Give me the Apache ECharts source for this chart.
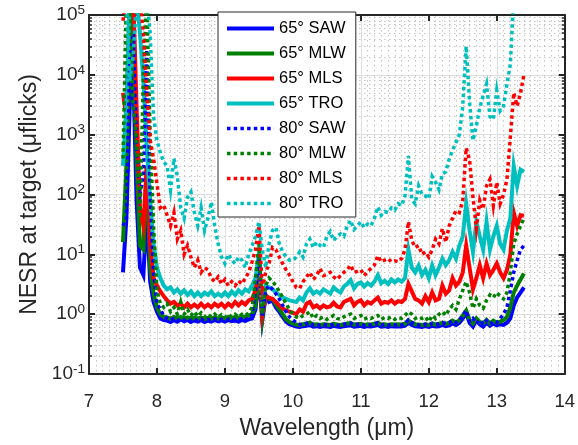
<!DOCTYPE html>
<html><head><meta charset="utf-8">
<script src="https://cdn.jsdelivr.net/npm/echarts@6/dist/echarts.min.js"></script>
<style>html,body{margin:0;padding:0;background:#fff}#c{width:578px;height:445px}</style>
</head><body><div id="c"></div>
<script>
const wavelength = [
 7.50,7.55,7.60,7.65,7.70,7.75,7.80,7.85,7.90,7.95,
 8.00,8.05,8.10,8.15,8.20,8.25,8.30,8.35,8.40,8.45,
 8.50,8.55,8.60,8.65,8.70,8.75,8.80,8.85,8.90,8.95,
 9.00,9.05,9.10,9.15,9.20,9.25,9.30,9.35,9.40,9.45,
 9.50,9.55,9.60,9.65,9.70,9.75,9.80,9.85,9.90,9.95,
 10.00,10.05,10.10,10.15,10.20,10.25,10.30,10.35,10.40,10.45,
 10.50,10.55,10.60,10.65,10.70,10.75,10.80,10.85,10.90,10.95,
 11.00,11.05,11.10,11.15,11.20,11.25,11.30,11.35,11.40,11.45,
 11.50,11.55,11.60,11.65,11.70,11.75,11.80,11.85,11.90,11.95,
 12.00,12.05,12.10,12.15,12.20,12.25,12.30,12.35,12.40,12.45,
 12.50,12.55,12.60,12.65,12.70,12.75,12.80,12.85,12.90,12.95,
 13.00,13.05,13.10,13.15,13.20,13.25,13.30,13.35,13.40];

const saw65 = [
 5,40,3000,12000,80,6,4.5,50,3.5,1.6,
 1.1,0.85,0.8,0.78,0.74,0.8,0.75,0.82,0.76,0.8,
 0.74,0.79,0.75,0.8,0.74,0.78,0.75,0.8,0.76,0.79,
 0.75,0.8,0.76,0.78,0.75,0.8,0.77,0.82,0.85,1.2,
 4.5,0.8,2.0,1.6,1.7,1.3,1.1,0.9,0.75,0.68,
 0.65,0.62,0.61,0.63,0.64,0.66,0.62,0.63,0.61,0.63,
 0.62,0.61,0.64,0.62,0.61,0.63,0.64,0.65,0.62,0.63,
 0.64,0.61,0.63,0.62,0.64,0.66,0.62,0.63,0.61,0.63,
 0.62,0.63,0.62,0.64,0.72,0.66,0.63,0.62,0.61,0.63,
 0.61,0.64,0.62,0.63,0.66,0.63,0.65,0.7,0.66,0.72,
 0.85,1.05,0.72,0.62,0.8,0.68,0.62,0.72,0.64,0.7,
 0.65,0.68,0.66,0.72,0.85,1.4,1.9,2.3,2.8];

const mlw65 = [
 16,300,20000,200000,400,14,12,300,6,2.2,
 1.3,1.0,0.9,0.88,0.84,0.9,0.85,0.9,0.84,0.88,
 0.83,0.88,0.84,0.88,0.83,0.87,0.84,0.88,0.84,0.88,
 0.85,0.9,0.86,0.9,0.86,0.92,0.9,0.95,1.0,1.4,
 5.5,0.85,2.1,1.8,1.8,1.45,1.2,1.0,0.82,0.74,
 0.7,0.67,0.66,0.68,0.7,0.72,0.67,0.68,0.66,0.68,
 0.67,0.66,0.69,0.67,0.66,0.68,0.7,0.71,0.67,0.68,
 0.69,0.66,0.68,0.67,0.69,0.72,0.67,0.68,0.66,0.68,
 0.67,0.68,0.67,0.69,0.78,0.72,0.68,0.67,0.66,0.68,
 0.66,0.7,0.67,0.69,0.72,0.69,0.72,0.78,0.72,0.8,
 0.95,1.15,0.8,0.7,0.85,0.74,0.7,0.8,0.7,0.78,
 0.72,0.75,0.8,0.9,1.3,2.3,3.0,3.8,4.8];

const mls65 = [
 5000,2000,200000,200000,3000,60,30,300,15,4,
 3,2.4,2.0,1.7,1.5,1.6,1.4,1.5,1.3,1.5,
 1.3,1.45,1.3,1.5,1.3,1.45,1.3,1.5,1.35,1.5,
 1.3,1.5,1.35,1.6,1.4,1.6,1.45,1.7,1.8,2.5,
 7,1.0,2.0,1.9,1.8,1.6,1.4,1.25,1.15,1.1,
 1.05,1.0,1.2,1.1,1.5,1.6,1.3,1.4,1.25,1.4,
 1.3,1.35,1.55,1.35,1.3,1.6,1.7,1.8,1.4,1.6,
 1.7,1.4,1.6,1.5,1.7,1.9,1.5,1.6,1.55,1.7,
 1.5,1.65,1.6,1.8,3.2,2.4,1.8,1.7,1.5,2.0,
 1.6,2.3,1.7,1.8,3.0,2.2,2.5,4.0,3.0,3.5,
 5,14,6,2.6,4,6.6,4,7,4.5,5.5,
 7,5,4,5.5,10,50,30,45,44];

const tro65 = [
 300,3000,200000,200000,200000,50000,8000,600,80,15,
 6,4,3.0,2.6,2.8,2.3,2.6,2.2,2.5,2.1,
 2.4,2.0,2.3,2.0,2.3,2.1,2.4,2.0,2.2,2.0,
 2.3,2.0,2.4,2.1,2.5,2.2,2.6,2.4,3.0,4,
 10,1.6,3.0,2.8,2.6,2.3,2.1,1.9,1.8,1.7,
 1.65,1.6,1.9,1.7,2.3,2.7,2.2,2.4,2.2,2.6,
 2.4,2.2,2.8,2.5,2.3,2.9,3.2,3.7,2.7,3.2,
 3.4,2.9,3.3,3.0,3.5,4.5,3.3,3.6,3.2,3.8,
 3.4,3.8,3.5,4.0,12,6,5,6.5,4.5,5.5,
 4,6.5,4.5,6,8.5,6.6,8,11,8.5,14,
 20,70,25,11,35,20,12,35,12,20,
 30,15,12,25,40,300,140,260,240];

const saw80 = [
 30,40,20000,50000,600,100,200,30000,100,5,
 1.5,1.2,0.95,0.85,0.8,0.85,0.78,0.84,0.79,0.83,
 0.78,0.82,0.78,0.83,0.78,0.82,0.78,0.83,0.79,0.82,
 0.78,0.83,0.79,0.82,0.8,0.84,0.8,0.86,0.95,2.5,
 10,0.9,2.5,3,2.6,2.2,1.8,1.4,1.1,0.9,
 0.8,0.72,0.68,0.66,0.7,0.72,0.66,0.68,0.65,0.68,
 0.66,0.65,0.69,0.66,0.65,0.68,0.7,0.71,0.66,0.68,
 0.69,0.65,0.68,0.66,0.69,0.72,0.66,0.68,0.65,0.68,
 0.66,0.68,0.66,0.69,0.8,0.72,0.68,0.66,0.65,0.68,
 0.65,0.7,0.67,0.69,0.72,0.69,0.72,0.78,0.72,0.8,
 0.95,1.15,0.75,0.85,0.7,0.8,0.68,0.78,0.68,0.75,
 0.72,0.85,1.0,1.3,2.5,5,8,12,14];

const mlw80 = [
 400,200000,200000,3000,800,40,10000,200000,1000,30,
 2.5,1.5,1.3,1.5,1.1,1.3,1.0,1.6,1.0,1.2,
 0.95,1.1,0.92,1.05,0.9,1.0,0.9,1.0,0.88,0.98,
 0.88,0.98,0.9,1.0,0.9,1.0,0.95,1.05,1.3,4,
 15,1.0,3,4,3.5,3,2.4,1.9,1.5,1.2,
 1.0,0.9,0.85,0.95,1.0,1.1,0.85,0.95,0.85,0.9,
 0.82,0.88,0.95,0.85,0.82,0.9,0.95,1.0,0.85,0.9,
 0.95,0.82,0.88,0.85,0.9,0.95,0.82,0.88,0.85,0.9,
 0.82,0.88,0.85,0.95,1.1,1.0,0.85,0.9,0.85,0.9,
 0.75,0.95,0.85,1.0,1.1,0.95,1.2,1.4,1.2,1.8,
 2.5,3.5,2.3,1.25,1.8,1.4,1.25,1.7,2.1,1.9,
 2.3,2.0,1.8,2.3,5,15,22,30,40];

const mls80 = [
 80000,200000,200000,200000,200000,200000,50000,5000,800,400,
 150,60,66,45,30,50,18,25,10,14,
 9,6,8,5,6,5.5,4,3.5,4.2,3.2,
 3.8,3.0,3.5,3.0,3.6,3.2,4.0,5,7.5,12,
 30,2.7,5,7,13,12,9,7,5.5,4.5,
 3.5,2.8,2.7,3.5,4.2,5,3.8,4.4,5.8,4.4,
 4.6,5,4.2,3.8,4.4,5,5.5,6.6,5,5.2,
 5.5,4.4,5.2,5.8,6.6,9.5,7.5,8,8.5,7.5,
 7.8,7.5,8.5,12,35,17,13,14,10,11,
 9,12,18,15,27,16,30,40,54,50,
 80,600,380,90,27,80,57,140,180,65,
 160,70,100,180,900,5000,3000,5000,10000];

const tro80 = [
 200000,200000,8000,20000,200000,200000,200000,200000,50000,2000,
 800,500,350,300,120,400,200,60,40,90,
 110,50,30,60,25,40,75,30,15,9,
 7,10,8,7,9,8,6,10,14,20,
 35,12,6,15,25,28,15,11,9,8,
 8,9,11,9,15,18,13,16,14,13,
 20,24,17,20,22,20,30,37,26,30,
 35,28,32,30,40,62,45,52,50,60,
 55,70,65,95,440,83,70,140,100,95,
 85,200,160,120,220,240,390,550,740,1000,
 3000,30000,3500,800,1400,2800,4500,7000,2000,1800,
 5500,2500,3000,7000,15000,200000,null,null,null];

const seriesNames = ['65° SAW','65° MLW','65° MLS','65° TRO','80° SAW','80° MLW','80° MLS','80° TRO'];
const seriesValues = [saw65, mlw65, mls65, tro65, saw80, mlw80, mls80, tro80];
const seriesColors = ['#0000ff','#008000','#ff0000','#00bfbf','#0000ff','#008000','#ff0000','#00bfbf'];

const FONT = '"Liberation Sans", Arial, Helvetica, sans-serif';
const AX = '#262626';
const SOLID_W = 4, DOT_W = 3.5, DOT_DASH = [3.5, 3.2];

const chart = echarts.init(document.getElementById('c'), null, {renderer: 'canvas'});

const series = seriesNames.map((name, si) => {
  const dotted = si >= 4;
  return {
    name, type: 'line', xAxisIndex: 0, yAxisIndex: 0,
    data: wavelength.map((x, i) => [x, seriesValues[si][i] == null ? '-' : seriesValues[si][i]]),
    showSymbol: false, symbol: 'none', smooth: false, connectNulls: false,
    clip: true, animation: false,
    lineStyle: {color: seriesColors[si], width: dotted ? DOT_W : SOLID_W, type: dotted ? DOT_DASH : 'solid', cap: 'butt', join: 'miter'},
    itemStyle: {color: seriesColors[si]},
    emphasis: {disabled: true}
  };
});

const minorGrid = {show: true, lineStyle: {color: '#c4c4c4', width: 1, type: [1.5, 3.5]}};
const majorGrid = {show: true, lineStyle: {color: '#dedede', width: 1}};

const option = {
  backgroundColor: '#fff',
  animation: false,
  grid: {left: 89, right: 10, top: 15, bottom: 69, containLabel: false},
  xAxis: [{
    type: 'value', min: 7, max: 14, interval: 1, position: 'bottom',
    axisLine: {show: true, onZero: false, lineStyle: {color: AX, width: 2}},
    axisTick: {show: true, inside: true, length: 6, lineStyle: {color: AX, width: 2}},
    axisLabel: {show: true, margin: 18, fontSize: 18.5, color: AX, fontFamily: FONT},
    splitLine: majorGrid,
    minorTick: {show: false, splitNumber: 10},
    minorSplitLine: minorGrid,
    name: 'Wavelength (μm)', nameLocation: 'middle', nameGap: 43,
    nameTextStyle: {fontSize: 23, color: AX, fontFamily: FONT}
  }, {
    type: 'value', min: 7, max: 14, interval: 1, position: 'top',
    axisLine: {show: true, onZero: false, lineStyle: {color: AX, width: 2}},
    axisTick: {show: true, inside: true, length: 6, lineStyle: {color: AX, width: 2}},
    axisLabel: {show: false}, splitLine: {show: false}
  }],
  yAxis: [{
    type: 'log', logBase: 10, min: 0.1, max: 100000, position: 'left',
    axisLine: {show: true, onZero: false, lineStyle: {color: AX, width: 2}},
    axisTick: {show: true, inside: true, length: 6, lineStyle: {color: AX, width: 2}},
    minorTick: {show: true, splitNumber: 9, length: 3, lineStyle: {color: AX, width: 1.5}},
    minorSplitLine: minorGrid,
    splitLine: majorGrid,
    axisLabel: {
      show: true, margin: 4, color: AX, fontFamily: FONT,
      formatter: v => '{b|10}{e|' + Math.round(Math.log10(v)) + '}',
      rich: {
        b: {fontSize: 19, color: AX, fontFamily: FONT},
        e: {fontSize: 13.5, color: AX, fontFamily: FONT, verticalAlign: 'bottom', padding: [0, 0, 10, 0]}
      }
    },
    name: 'NESR at target (μflicks)', nameLocation: 'middle', nameGap: 46,
    nameTextStyle: {fontSize: 23, color: AX, fontFamily: FONT}
  }, {
    type: 'log', logBase: 10, min: 0.1, max: 100000, position: 'right',
    axisLine: {show: true, onZero: false, lineStyle: {color: AX, width: 2}},
    axisTick: {show: true, inside: true, length: 6, lineStyle: {color: AX, width: 2}},
    minorTick: {show: true, splitNumber: 9, length: 3, lineStyle: {color: AX, width: 1.5}},
    axisLabel: {show: false}, splitLine: {show: false}
  }],
  legend: {
    orient: 'vertical', left: 218, top: 12,
    itemWidth: 47, itemHeight: 12, itemGap: 8,
    padding: [8, 10, 5, 7],
    backgroundColor: '#ffffff', borderColor: '#262626', borderWidth: 1, borderRadius: 0,
    textStyle: {fontSize: 16.5, color: '#000', fontFamily: FONT},
    itemStyle: {opacity: 0, color: 'rgba(0,0,0,0)', borderWidth: 0},
    data: seriesNames.map((n, i) => ({
      name: n,
      itemStyle: {opacity: 0, color: 'rgba(0,0,0,0)', borderWidth: 0},
      lineStyle: {width: i >= 4 ? DOT_W : SOLID_W, type: i >= 4 ? DOT_DASH : 'solid', color: seriesColors[i], opacity: 1}
    })),
    selectedMode: false
  },
  series
};
chart.setOption(option);
</script></body></html>
